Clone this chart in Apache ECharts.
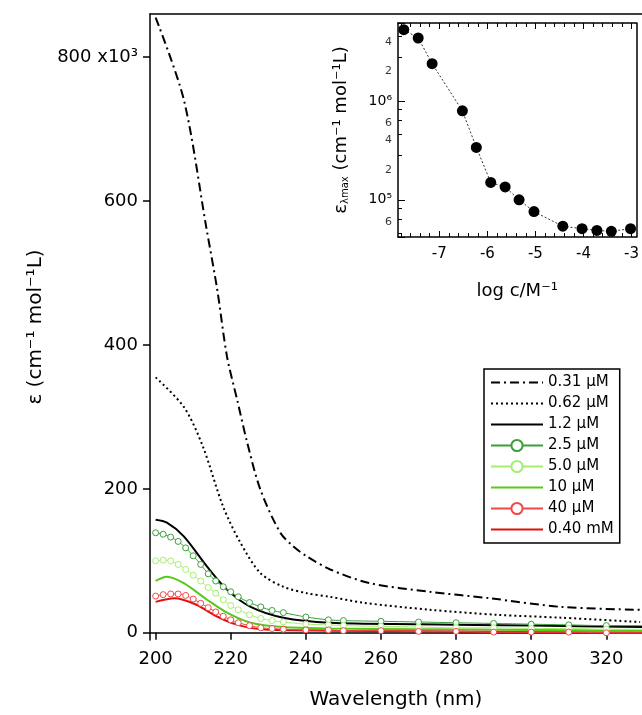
<!DOCTYPE html>
<html><head><meta charset="utf-8">
<script src="https://cdn.jsdelivr.net/npm/echarts@6/dist/echarts.min.js"></script>
<style>html,body{margin:0;padding:0;background:#fff}#c{width:642px;height:715px}</style>
</head><body><div id="c"></div>
<script>
const wl_dd = [200,207.5,213.5,216.4,219,221.7,224.4,227.9,233.2,236.7,240.3,246.5,257,273,289,308,329];
const v_dd  = [855,741,563,477,384,324,264,199,139,120,106,88,69,57,48,36,32];
const wl_dt = [200,207.5,212.5,218,222.6,227.9,234,240.3,246.5,255,273,291,308,329];
const v_dt  = [355,314,260,175,125,83,64,55,50,42,32,25,21,15];
const wl_bk = [200,203,207.5,213.7,219,225.3,234,246.5,270,300,330];
const v_bk  = [157,153,134,92,60,36,21,14,12,10,8];
const wl_g25 = [200,202,204,206,208,210,212,214,216,218,220,222,225,228,231,234,240,246,250,260,270,280,290,300,310,320,330];
const v_g25  = [139,137,133,127,118,107,95,82,72,64,57,50,42,36,31,28,22,18,17,16,15,14,13,12,11,10,10];
const wl_g50 = [200,202,204,206,208,210,212,214,216,218,220,222,225,228,231,234,240,246,250,260,270,280,290,300,310,320,330];
const v_g50  = [100,101,100,95,88,80,72,63,55,46,38,32,25,20,17,15,12,11,10,9,8,7,7,6,6,5,5];
const wl_g10 = [200,203,207.5,213.7,219,225.3,234,246.5,270,300,330];
const v_g10  = [72,78,69,46,28,14,8,6,5,4,3];
const wl_r40 = [200,202,204,206,208,210,212,214,216,218,220,222,225,228,231,234,240,246,250,260,270,280,290,300,310,320,330];
const v_r40  = [51,53,54,54,52,47,41,35,29,23,18,14,10,7,6,5,4,4,3,3,2,2,1,1,1,0,0];
const wl_r04 = [200,205,210.4,216.6,221.9,228,246.5,270,330];
const v_r04  = [43,48,40,22,11,5,3,2,0];
const names = ['0.31 μM','0.62 μM','1.2 μM','2.5 μM','5.0 μM','10 μM','40 μM','0.40 mM'];
const logc = [-7.74,-7.44,-7.15,-6.52,-6.23,-5.93,-5.63,-5.34,-5.03,-4.43,-4.03,-3.72,-3.42,-3.02];
const emax = [5.3e6,4.37e6,2.4e6,7.98e5,3.4e5,1.5e5,1.35e5,1.0e5,7.6e4,5.4e4,5.1e4,4.9e4,4.8e4,5.1e4];
const yTicks = [0,200,400,600,800];
const xTicks = [200,220,240,260,280,300,320];
const inXTicks = [-7,-6,-5,-4,-3];
const inMinorLabels = [2e5,4e5,6e4,2e6,4e6,6e5];

const F = 'DejaVu Sans';
const zip = (a,b)=>a.map((x,i)=>[x,b[i]]);
function ln(name,x,y,color,type,width){return {name,type:'line',xAxisIndex:0,yAxisIndex:0,data:zip(x,y),showSymbol:false,symbol:'none',smooth:0.3,lineStyle:{color,width:width||2,type},itemStyle:{color},z:3};}
function circ(name,x,y,color){return {name,type:'line',xAxisIndex:0,yAxisIndex:0,data:zip(x,y),symbol:'circle',symbolSize:6,showSymbol:true,smooth:0.3,lineStyle:{color,width:1},itemStyle:{color:'#fff',borderColor:color,borderWidth:1},z:4};}
const lineOnly = [0,1,2,5,7];

const chart = echarts.init(document.getElementById('c'));
chart.setOption({
  animation:false,
  textStyle:{fontFamily:F},
  grid:[{left:150,right:0,top:14,bottom:75},{left:398,top:23,width:242,height:214}],
  xAxis:[
    {type:'value',gridIndex:0,min:198.5,max:329.5,position:'bottom',
     name:'Wavelength (nm)',nameLocation:'middle',nameGap:50,nameTextStyle:{fontSize:20,color:'#000'},
     axisLine:{show:true,lineStyle:{color:'#000',width:1.5}},splitLine:{show:false},
     axisTick:{show:true,length:7,inside:false,customValues:xTicks,lineStyle:{color:'#000',width:1.5}},
     axisLabel:{customValues:xTicks,fontSize:18,color:'#000',margin:10}},
    {type:'value',gridIndex:0,min:198.5,max:329.5,position:'top',axisLine:{show:true,lineStyle:{color:'#000',width:1.5}},axisTick:{show:false},axisLabel:{show:false},splitLine:{show:false}},
    {type:'value',gridIndex:1,min:-7.86,max:-2.9,position:'bottom',
     name:'log c/M⁻¹',nameLocation:'middle',nameGap:45,nameTextStyle:{fontSize:18,color:'#000'},
     axisLine:{show:true,onZero:false,lineStyle:{color:'#000',width:1.5}},splitLine:{show:false},
     axisTick:{show:true,inside:true,length:6,customValues:inXTicks,lineStyle:{color:'#000'}},
     minorTick:{show:true,splitNumber:5,length:4,lineStyle:{color:'#000'}},
     axisLabel:{customValues:inXTicks,fontSize:15,color:'#000',margin:10}},
    {type:'value',gridIndex:1,min:-7.86,max:-2.9,position:'top',
     axisLine:{show:true,onZero:false,lineStyle:{color:'#000',width:1.5}},splitLine:{show:false},
     axisTick:{show:true,inside:true,length:6,customValues:inXTicks,lineStyle:{color:'#000'}},
     minorTick:{show:true,splitNumber:5,length:4,lineStyle:{color:'#000'}},axisLabel:{show:false}}
  ],
  yAxis:[
    {type:'value',gridIndex:0,min:-10,max:860,
     name:'ε (cm⁻¹ mol⁻¹L)',nameLocation:'middle',nameGap:95,nameTextStyle:{fontSize:20,color:'#000'},
     axisLine:{show:true,onZero:false,lineStyle:{color:'#000',width:1.5}},splitLine:{show:false},
     axisTick:{show:true,length:7,customValues:yTicks,lineStyle:{color:'#000',width:1.5}},
     axisLabel:{customValues:yTicks,fontSize:18,color:'#000',margin:12,formatter:v=>v===800?'800 x10³':String(v)}},
    {type:'log',gridIndex:1,logBase:10,min:4.2e4,max:6.2e6,
     name:'{e|ε}{s|λmax}{e| (cm⁻¹ mol⁻¹L)}',nameLocation:'middle',nameGap:48,
     nameTextStyle:{color:'#000',rich:{e:{fontSize:18,fontFamily:F},s:{fontSize:10,fontFamily:F,verticalAlign:'bottom',padding:[8,0,0,0]}}},
     axisLine:{show:true,onZero:false,lineStyle:{color:'#000',width:1.5}},splitLine:{show:false},
     axisTick:{show:true,inside:true,length:7,lineStyle:{color:'#000'}},
     minorTick:{show:true,length:4,lineStyle:{color:'#000'}},
     axisLabel:{fontSize:14,color:'#000',margin:6,showMinLabel:false,showMaxLabel:false,
       formatter:v=>{const e=Math.log10(v);if(Math.abs(e-Math.round(e))>0.01)return '';return Math.round(e)===5?'10⁵':'10⁶';}}},
    {type:'log',gridIndex:1,logBase:10,min:4.2e4,max:6.2e6,position:'right',
     axisLine:{show:true,onZero:false,lineStyle:{color:'#000',width:1.5}},splitLine:{show:false},
     axisTick:{show:false},axisLabel:{show:false}}
  ],
  legend:{orient:'vertical',left:484,top:369,itemGap:6,itemWidth:52,itemHeight:14,
    padding:[6,6,6,6],borderColor:'#000',borderWidth:1.5,backgroundColor:'#fff',
    textStyle:{fontSize:15,color:'#000'},
    data:names.map((n,i)=>lineOnly.includes(i)?{name:n,itemStyle:{opacity:0}}:n)},
  series:[
    ln(names[0],wl_dd,v_dd,'#000',[9,4,2,4],2),
    ln(names[1],wl_dt,v_dt,'#000',[2,3],2),
    ln(names[2],wl_bk,v_bk,'#000','solid',2),
    circ(names[3],wl_g25,v_g25,'#3aa03a'),
    circ(names[4],wl_g50,v_g50,'#a6ee70'),
    ln(names[5],wl_g10,v_g10,'#58c81a','solid',2),
    circ(names[6],wl_r40,v_r40,'#f04848'),
    ln(names[7],wl_r04,v_r04,'#e01010','solid',2),
    {type:'line',xAxisIndex:2,yAxisIndex:1,data:zip(logc,emax),symbol:'circle',symbolSize:11,
     lineStyle:{color:'#333',width:1,type:[2,2]},itemStyle:{color:'#000'},z:5},
    {type:'scatter',xAxisIndex:2,yAxisIndex:1,symbolSize:0,silent:true,
     data:inMinorLabels.map(v=>[-7.86,v]),
     label:{show:true,position:'left',distance:6,fontSize:11,color:'#000',fontFamily:F,
       formatter:p=>String(p.value[1]).charAt(0)}}
  ]
});
</script></body></html>
